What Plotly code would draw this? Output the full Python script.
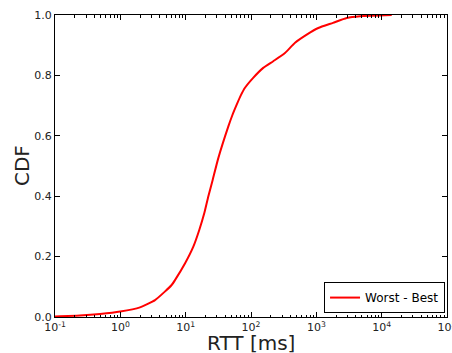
import plotly.graph_objects as go

rtt_ms = [0.1, 0.24, 0.49, 1.0, 2.0, 3.4, 4.8, 6.1, 6.9, 9.8, 13.1, 16.2, 19.3, 22.2, 25.9,
          31.6, 45, 51.8, 60.4, 69.5, 80.9, 108, 154, 219, 331, 472, 713, 1072, 1800, 2916,
          4667, 14260]
cdf = [0.002, 0.005, 0.01, 0.018, 0.032, 0.056, 0.084, 0.106, 0.123, 0.178, 0.233, 0.289,
       0.344, 0.399, 0.454, 0.526, 0.631, 0.668, 0.703, 0.733, 0.759, 0.792, 0.825, 0.847,
       0.874, 0.908, 0.935, 0.957, 0.974, 0.99, 0.996, 1.0]
series_name = "Worst - Best"
x_tickvals = [0.1, 1, 10, 100, 1000, 10000, 100000]
x_ticktext = ["10<sup>-1</sup>", "10<sup>0</sup>", "10<sup>1</sup>", "10<sup>2</sup>",
              "10<sup>3</sup>", "10<sup>4</sup>", "10<sup>5</sup>"]
x_minor = [m * 10.0 ** e for e in range(-1, 5) for m in range(2, 10)]
y_tickvals = [0.0, 0.2, 0.4, 0.6, 0.8, 1.0]

fig = go.Figure()
fig.add_trace(go.Scatter(x=rtt_ms, y=cdf, mode="lines", name=series_name,
                         line=dict(color="#ff0000", width=2, shape="spline", smoothing=0.5)))

font = "DejaVu Sans, sans-serif"
fig.update_layout(
    width=452, height=353,
    margin=dict(l=55, r=5, t=15, b=36),
    paper_bgcolor="white", plot_bgcolor="white",
    font=dict(family=font, size=11, color="#222"),
    showlegend=True,
    legend=dict(x=0.995, y=0.013, xanchor="right", yanchor="bottom",
                bordercolor="#000", borderwidth=1, bgcolor="white",
                font=dict(size=12, color="#000"), itemwidth=30,
                tracegroupgap=0),
    xaxis=dict(type="log", range=[-1, 5.0001], tickvals=x_tickvals, ticktext=x_ticktext,
               ticks="inside", ticklen=5, tickcolor="#000", ticklabeloverflow="allow",
               showline=True, linecolor="#000", linewidth=1, mirror="ticks",
               showgrid=False, zeroline=False, automargin=False,
               minor=dict(tickvals=x_minor, ticks="inside", ticklen=2.5,
                          tickcolor="#000", showgrid=False),
               tickfont=dict(size=11)),
    yaxis=dict(range=[0, 1], tickvals=y_tickvals, tickformat=".1f",
               ticks="inside", ticklen=5, tickcolor="#000",
               showline=True, linecolor="#000", linewidth=1, mirror="ticks",
               showgrid=False, zeroline=False, automargin=False,
               tickfont=dict(size=11)),
    annotations=[
        dict(text="RTT [ms]", x=0.5, xref="paper", y=-0.04, yref="paper",
             xanchor="center", yanchor="top", showarrow=False,
             font=dict(size=20, color="#222")),
        dict(text="CDF", x=-0.084, xref="paper", y=0.5, yref="paper", textangle=-90,
             xanchor="center", yanchor="middle", showarrow=False,
             font=dict(size=20, color="#222")),
    ],
)

fig.write_html("out.html", config={"displayModeBar": False},
               post_script="document.body.style.margin='0';")
